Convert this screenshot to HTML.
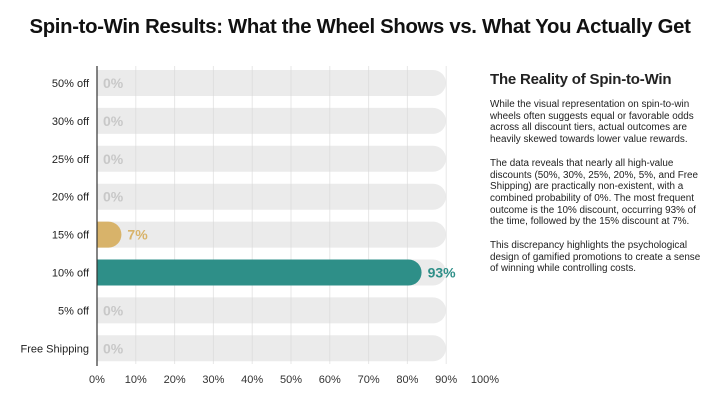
<!DOCTYPE html>
<html><head><meta charset="utf-8"><style>
body{margin:0;width:720px;height:402px;background:#fff;font-family:"Liberation Sans",sans-serif;overflow:hidden}
#title{position:absolute;left:0;top:16px;width:720px;text-align:center;font-size:20.3px;font-weight:bold;color:#111;letter-spacing:-0.3px}
#panel{position:absolute;left:490px;top:71px;width:216px;color:#222}
#panel h2{margin:0 0 11px;font-size:15px;font-weight:bold;letter-spacing:-0.2px}
#panel p{margin:0 0 12px;font-size:9.9px;line-height:11.7px}
</style></head><body>
<div id="title">Spin-to-Win Results: What the Wheel Shows vs. What You Actually Get</div>
<svg id="chart" width="500" height="402" style="position:absolute;left:0;top:0"></svg>
<div id="panel">
<h2>The Reality of Spin-to-Win</h2>
<p>While the visual representation on spin-to-win wheels often suggests equal or favorable odds across all discount tiers, actual outcomes are heavily skewed towards lower value rewards.</p>
<p>The data reveals that nearly all high-value discounts (50%, 30%, 25%, 20%, 5%, and Free Shipping) are practically non-existent, with a combined probability of 0%. The most frequent outcome is the 10% discount, occurring 93% of the time, followed by the 15% discount at 7%.</p>
<p>This discrepancy highlights the psychological design of gamified promotions to create a sense of winning while controlling costs.</p>
</div>
<script>
const categories=["50% off","30% off","25% off","20% off","15% off","10% off","5% off","Free Shipping"];
const values=[0,0,0,0,7,93,0,0];
const colors=["#ccc","#ccc","#ccc","#ccc","#d8b36a","#2e8f88","#ccc","#ccc"];
const ticks=[0,10,20,30,40,50,60,70,80,90,100];
const NS="http://www.w3.org/2000/svg";
const svg=document.getElementById('chart');
const x0=97,axisPx=38.8,track=349,rowTop=83,rowStep=37.9,bh=26,r=13;
const xAxis=v=>x0+v/10*axisPx;
const barW=v=>v/100*track;
const yc=i=>rowTop+i*rowStep;
function mk(t,a){const e=document.createElementNS(NS,t);for(const k in a)e.setAttribute(k,a[k]);svg.appendChild(e);return e;}
function rightRound(x,y,w,h){const rr=Math.min(r,w);return `M${x},${y}H${x+w-rr}A${rr},${h/2} 0 0 1 ${x+w-rr},${y+h}H${x}Z`;}
categories.forEach((c,i)=>{
 const y=yc(i);
 const bg=mk('path',{d:rightRound(x0,y-bh/2,track,bh),fill:'#ebebeb'});
 
 
});
ticks.forEach(t=>{
 if(t<100){
 const g=mk('line',{x1:xAxis(t),x2:xAxis(t),y1:66,y2:364,stroke:'#d8d8d8','stroke-width':1,opacity:0.6});
 
 
 }
 const l=mk('text',{x:xAxis(t),y:383,'text-anchor':'middle','font-size':11,fill:'#333'});
 l.textContent=t+'%';
 
 
});
categories.forEach((c,i)=>{
 const y=yc(i);
 const v=values[i];
 if(v>0){
  const w=Math.max(barW(v),r);
  const b=mk('path',{d:rightRound(x0,y-bh/2,w,bh),fill:colors[i]});
  
  
 }
 const lab=mk('text',{x:89,y:y+4,'text-anchor':'end','font-size':11,fill:'#222'});
 lab.textContent=c;
 
 
 const vl=mk('text',{x:x0+(v>0?Math.max(barW(v),r)+6:6),y:y+5,'font-size':14,'font-weight':'bold',fill:v>0?colors[i]:'#c8c8c8'});
 vl.textContent=v+'%';
 
 
});
const ax=mk('line',{x1:x0,x2:x0,y1:66,y2:366,stroke:'#333','stroke-width':1.2});


</script>
</body></html>
